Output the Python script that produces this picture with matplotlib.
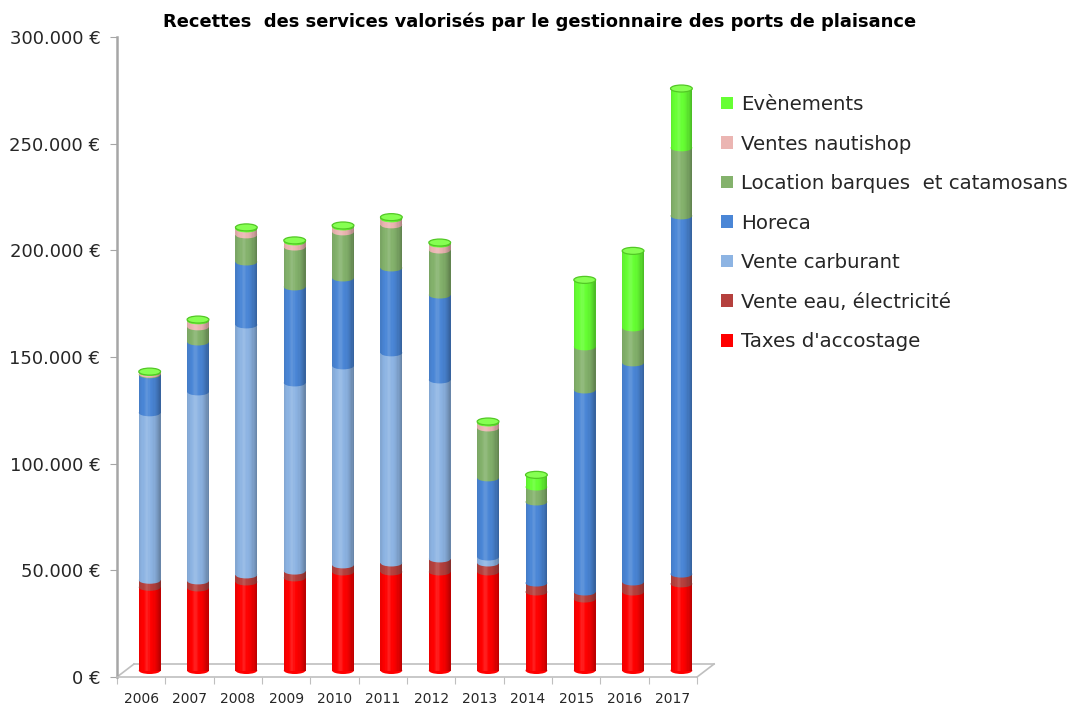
import matplotlib
matplotlib.use("Agg")
import matplotlib.pyplot as plt
from matplotlib.patches import Rectangle, Ellipse, Patch
from matplotlib.transforms import ScaledTranslation
from matplotlib.ticker import FuncFormatter
import numpy as np

# recettes par annee (EUR)
years = ["2006", "2007", "2008", "2009", "2010", "2011", "2012",
         "2013", "2014", "2015", "2016", "2017"]
taxes = [39000, 38700, 41500, 43400, 46200, 46200, 46200, 46200, 36800, 33500, 36800, 40600]
eau = [3300, 3300, 3300, 3200, 3300, 4200, 6100, 4200, 4200, 3300, 4700, 4600]
carburant = [78500, 88600, 117200, 88200, 93300, 98500, 83900, 2800, 0, 0, 0, 0]
horeca = [17800, 23400, 29500, 45000, 41200, 39800, 39800, 37100, 38000, 94700, 102700, 167900]
location = [300, 7100, 12700, 18700, 21600, 20200, 21100, 23400, 7000, 20200, 16400, 31900]
nautishop = [800, 2800, 2800, 2400, 2300, 2800, 2800, 2300, 0, 0, 0, 0]
evenements = [400, 600, 700, 700, 700, 800, 700, 700, 5700, 31400, 36100, 27800]

series = [
    ("Taxes d'accostage", taxes, "#FF0000"),
    ("Vente eau, électricité", eau, "#B5403D"),
    ("Vente carburant", carburant, "#8DB4E3"),
    ("Horeca", horeca, "#4A86D6"),
    ("Location barques  et catamosans", location, "#84B26C"),
    ("Ventes nautishop", nautishop, "#EBB5B2"),
    ("Evènements", evenements, "#66FF33"),
]

W, H = 1073, 708
fig = plt.figure(figsize=(W / 100, H / 100), dpi=100)
ax = fig.add_axes([117 / W, 31 / H, 597 / W, 640 / H])
ax.set_xlim(-0.5, 11.85)
ax.set_ylim(0, 300000)

# decalage "3D" : barres a mi-profondeur, fond du plancher au fond
bar_tf = ax.transData + ScaledTranslation(0.085, 0.065, fig.dpi_scale_trans)
back_tf = ax.transData + ScaledTranslation(0.17, 0.13, fig.dpi_scale_trans)

bw = 0.45
eh = 7 / 640 * 300000  # hauteur des ellipses (7 px)

# ombrage cylindrique
n_strips = 18
u = (np.arange(n_strips) + 0.5) / n_strips

def shade(t):
    d = t - 0.38
    if abs(d) < 0.16:
        return "white", 0.14 * (1 - abs(d) / 0.16)
    return "black", 0.28 * ((abs(d) - 0.16) / 0.46) ** 1.6

x = np.arange(len(years))
for i in range(len(years)):
    bottom = 0
    for k, (label, vals, col) in enumerate(series):
        v = vals[i]
        if v <= 0:
            continue
        ax.add_patch(Ellipse((x[i], bottom), bw, eh, facecolor=col, edgecolor="none",
                             transform=bar_tf, zorder=2 + k * 0.1))
        ax.add_patch(Rectangle((x[i] - bw / 2, bottom), bw, v, facecolor=col, edgecolor="none",
                               transform=bar_tf, zorder=2 + k * 0.1))
        bottom += v
    for t in u:
        c, a = shade(t)
        ax.add_patch(Rectangle((x[i] - bw / 2 + (t - 0.5 / n_strips) * bw, 0), bw / n_strips, bottom,
                               facecolor=c, alpha=a, edgecolor="none", transform=bar_tf, zorder=3))
    ax.add_patch(Ellipse((x[i], bottom), bw, eh, facecolor="#86FF52", edgecolor="#52C825",
                         linewidth=0.9, transform=bar_tf, zorder=4))

# plancher
floor_col = "#BFBFBF"
dx = 17 / (597 / 12.35)
dy = 13 / 640 * 300000
ax.plot([-0.5, 11.5], [0, 0], color=floor_col, lw=1.2, transform=back_tf, clip_on=False, zorder=1)
ax.plot([-0.5, -0.5 + dx], [0, dy], color=floor_col, lw=1.2, clip_on=False, zorder=1)
ax.plot([11.5, 11.5 + dx], [0, dy], color=floor_col, lw=1.2, clip_on=False, zorder=1)

for s in ["top", "right"]:
    ax.spines[s].set_visible(False)
ax.spines["left"].set_color("#A6A6A6")
ax.spines["left"].set_linewidth(1.8)
ax.spines["bottom"].set_color(floor_col)
ax.spines["bottom"].set_linewidth(1.2)
ax.spines["bottom"].set_bounds(-0.5, 11.5)

ax.set_yticks(np.arange(0, 300001, 50000))
ax.yaxis.set_major_formatter(FuncFormatter(lambda v, p: f"{int(v):,}".replace(",", ".") + " €"))
ax.tick_params(axis="y", direction="out", length=5, color="#A6A6A6", labelsize=13,
               labelcolor="#262626", pad=7)

ax.set_xticks(np.arange(-0.5, 12, 1.0))
ax.set_xticklabels([])
ax.set_xticks(x, minor=True)
ax.set_xticklabels(years, minor=True)
ax.tick_params(axis="x", which="major", direction="out", length=5, color=floor_col)
ax.tick_params(axis="x", which="minor", length=0, labelsize=10, labelcolor="#262626", pad=11)

fig.text(540 / W, 1 - 22 / H, "Recettes  des services valorisés par le gestionnaire des ports de plaisance",
         ha="center", va="center", fontsize=12.9, fontweight="bold", color="black")

handles = [Patch(facecolor=c, edgecolor="none") for _, _, c in series][::-1]
labels = [l for l, _, _ in series][::-1]
fig.legend(handles, labels, loc="upper left", bbox_to_anchor=(721 / W, 1 - 95 / H),
           frameon=False, fontsize=14.2, handlelength=0.62, handleheight=0.62,
           handletextpad=0.4, labelspacing=1.04, borderpad=0, borderaxespad=0,
           labelcolor="#262626")

fig.savefig("out.png", dpi=100)
